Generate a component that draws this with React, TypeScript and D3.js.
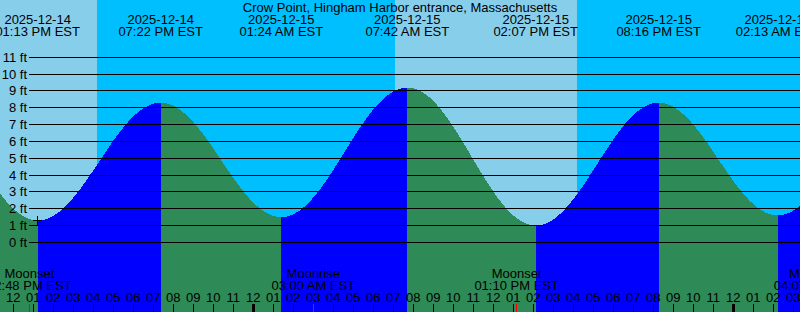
import React from "react";
import * as d3 from "d3";

const TITLE = "Crow Point, Hingham Harbor entrance, Massachusetts";

// Tide extremes (first and last are off-chart, unlabeled, shape the edges)
const tideTimes = [
  "2025-12-14T06:58",
  "2025-12-14T13:13",
  "2025-12-14T19:22",
  "2025-12-15T01:24",
  "2025-12-15T07:42",
  "2025-12-15T14:07",
  "2025-12-15T20:16",
  "2025-12-16T02:13",
  "2025-12-16T08:30",
];
const tideHeights = [9.0, 1.3, 8.3, 1.5, 9.2, 1.0, 8.3, 1.6, 9.3];
const tideLabeled = [false, true, true, true, true, true, true, true, false];

// Sun: day/night boundaries
const sunTimes = ["2025-12-14T16:11", "2025-12-15T07:05", "2025-12-15T16:11"];
const sunKinds = ["Sunset", "Sunrise", "Sunset"];

// Moon events
const moonTimes = [
  "2025-12-14T12:48",
  "2025-12-15T03:00",
  "2025-12-15T13:10",
  "2025-12-16T04:07",
];
const moonKinds = ["Moonset", "Moonrise", "Moonset", "Moonrise"];

const feetTicks = [0, 1, 2, 3, 4, 5, 6, 7, 8, 9, 10, 11];

const W = 800;
const H = 312;
const FONT = "'Liberation Sans', Arial, sans-serif";
const DAY = "#87CEEB";
const NIGHT = "#00BFFF";
const RISE = "#0000FF";
const FALL = "#2E8B57";

const parse = d3.utcParse("%Y-%m-%dT%H:%M");
const fmtDate = d3.utcFormat("%Y-%m-%d");
const fmtTime = d3.utcFormat("%I:%M %p EST");
const fmtHour = d3.utcFormat("%I");

export default function App() {
  const x = d3
    .scaleUtc()
    .domain([parse("2025-12-14T12:00")!, parse("2025-12-15T12:00")!])
    .range([13.33, 493.33]);
  const y = d3.scaleLinear().domain([0, 11]).range([242.3, 57.3]);

  const tides = tideTimes.map((t, i) => ({
    t: parse(t)!,
    h: tideHeights[i],
    labeled: tideLabeled[i],
  }));

  const heightAt = (ms: number) => {
    for (let i = 0; i < tides.length - 1; i++) {
      const a = tides[i], b = tides[i + 1];
      if (ms >= +a.t && ms <= +b.t) {
        const f = (ms - +a.t) / (+b.t - +a.t);
        return a.h + (b.h - a.h) * (1 - Math.cos(Math.PI * f)) / 2;
      }
    }
    return tides[0].h;
  };

  const area = d3
    .area<number>()
    .x((ms) => x(new Date(ms)))
    .y0(H)
    .y1((ms) => y(heightAt(ms)));

  const segments = [];
  for (let i = 0; i < tides.length - 1; i++) {
    const a = +tides[i].t, b = +tides[i + 1].t;
    const n = 200;
    const pts = d3.range(n + 1).map((k) => a + ((b - a) * k) / n);
    segments.push({
      d: area(pts)!,
      color: tides[i + 1].h > tides[i].h ? RISE : FALL,
    });
  }

  // sky bands
  const t0 = x.invert(0), t1 = x.invert(W);
  const bounds = [t0, ...sunTimes.map((s) => parse(s)!), t1];
  const bands = [];
  for (let i = 0; i < bounds.length - 1; i++) {
    const isDay = i === 0 ? sunKinds[0] === "Sunset" : sunKinds[i - 1] === "Sunrise";
    bands.push({ x0: x(bounds[i]), x1: x(bounds[i + 1]), color: isDay ? DAY : NIGHT });
  }

  const hours = d3.utcHour.range(parse("2025-12-14T12:00")!, t1);
  const lowIdx = 1;

  return (
    <svg
      width={W}
      height={H}
      style={{ position: "absolute", left: 0, top: 0, display: "block" }}
      fontFamily={FONT}
      fontSize={13}
    >
      {bands.map((b, i) => (
        <rect key={i} x={b.x0} y={0} width={b.x1 - b.x0} height={H} fill={b.color} shapeRendering="crispEdges" />
      ))}
      {segments.map((s, i) => (
        <path key={i} d={s.d} fill={s.color} shapeRendering="crispEdges" />
      ))}
      {feetTicks.map((f) => {
        const yy = Math.floor(y(f)) + 0.5;
        return (
          <g key={f}>
            <line x1={29} x2={W} y1={yy} y2={yy} stroke="#000" strokeWidth={1} />
            <text x={27} y={yy + 4.5} textAnchor="end" fill="#000">
              {f} ft
            </text>
          </g>
        );
      })}
      {/* cross marker at low */}
      <g stroke="#000" strokeWidth={1}>
        <line
          x1={Math.floor(x(tides[lowIdx].t)) - 4}
          x2={Math.floor(x(tides[lowIdx].t)) + 5}
          y1={Math.floor(y(tides[lowIdx].h)) + 0.5}
          y2={Math.floor(y(tides[lowIdx].h)) + 0.5}
        />
        <line
          x1={Math.floor(x(tides[lowIdx].t)) + 0.5}
          x2={Math.floor(x(tides[lowIdx].t)) + 0.5}
          y1={Math.floor(y(tides[lowIdx].h)) - 4}
          y2={Math.floor(y(tides[lowIdx].h)) + 5}
        />
      </g>
      <text x={W / 2} y={12} textAnchor="middle" fill="#000">
        {TITLE}
      </text>
      {tides
        .filter((t) => t.labeled)
        .map((t, i) => (
          <g key={i}>
            <text x={x(t.t)} y={24} textAnchor="middle" fill="#000">
              {fmtDate(t.t)}
            </text>
            <text x={x(t.t)} y={36} textAnchor="middle" fill="#000">
              {fmtTime(t.t)}
            </text>
          </g>
        ))}
      {hours.map((h, i) => {
        const xx = Math.floor(x(h));
        const midnight = h.getUTCHours() === 0;
        return (
          <g key={i}>
            <text x={x(h)} y={302} textAnchor="middle" fill="#000">
              {fmtHour(h)}
            </text>
            <rect
              x={midnight ? xx - 1 : xx}
              y={304}
              width={midnight ? 3 : 1}
              height={8}
              fill="#000"
            />
          </g>
        );
      })}
      {moonTimes.map((m, i) => {
        const t = parse(m)!;
        const xm = x(t);
        return (
          <g key={i}>
            <rect x={Math.floor(xm)} y={304} width={1} height={8} fill="#FF0000" />
            <text x={xm} y={278} textAnchor="middle" fill="#000">
              {moonKinds[i]}
            </text>
            <text x={xm} y={290} textAnchor="middle" fill="#000">
              {fmtTime(t)}
            </text>
          </g>
        );
      })}
    </svg>
  );
}
